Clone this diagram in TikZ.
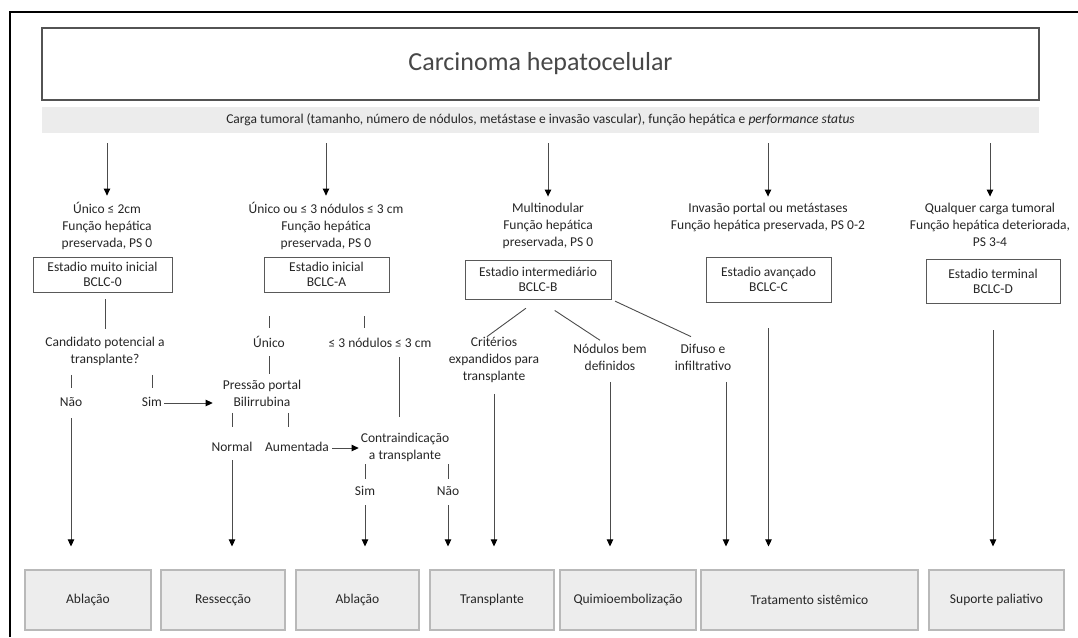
\documentclass[tikz,border=0pt]{standalone}
\usepackage{fontspec}
\setmainfont{Carlito}
\usetikzlibrary{arrows.meta}

\tikzset{
  every node/.style={text=black!85},
  txt/.style={align=center, inner sep=0pt, font=\fontsize{13.5}{17}\selectfont,
    execute at begin node=\strut, execute at end node=\strut},
  stagebox/.style={draw=gray!70!black, line width=0.9pt, align=center, inner sep=0pt,
    font=\fontsize{13.5}{15}\selectfont},
  treatbox/.style={draw=gray!55, fill=gray!14, line width=1.2pt, inner sep=0pt,
    minimum height=60pt, font=\fontsize{13.5}{17}\selectfont},
  ln/.style={draw=gray!60!black, line width=0.9pt},
  arr/.style={ln, -{Triangle[width=6.5pt,length=7pt,color=black]}},
}

\begin{document}
\begin{tikzpicture}[x=1pt, y=-1pt]
\useasboundingbox (0,0) rectangle (1078,637);
\draw[line width=2.5pt] (10,637) -- (10,12) -- (1078,12);

\node[draw=gray!65!black, line width=1.4pt, minimum width=997pt, minimum height=72pt, inner sep=0pt,
  font=\fontsize{26}{30}\selectfont, text=black!72] (title) at (540.5,64) {Carcinoma hepatocelular};
\node[fill=gray!15, minimum width=997pt, minimum height=26pt, inner sep=0pt,
  font=\fontsize{13.5}{15}\selectfont] (bar) at (540.5,120)
  {Carga tumoral (tamanho, número de nódulos, metástase e invasão vascular), função hepática e \textit{performance status}};

\node[txt] (c0) at (107,227) {Único ≤ 2cm\\Função hepática\\preservada, PS 0};
\node[txt] (c1) at (326,227) {Único ou ≤ 3 nódulos ≤ 3 cm\\Função hepática\\preservada, PS 0};
\node[txt] (c2) at (548,227) {Multinodular\\Função hepática\\preservada, PS 0};
\node[txt] (c3) at (768,218.5) {Invasão portal ou metástases\\Função hepática preservada, PS 0-2};
\node[txt] (c4) at (990,227) {Qualquer carga tumoral\\Função hepática deteriorada,\\PS 3-4};

\node[stagebox, minimum width=139pt, minimum height=35pt] (bclc0) at (102.5,274.5) {Estadio muito inicial\\BCLC-0};
\node[stagebox, minimum width=125pt, minimum height=35pt] (bclcA) at (326.5,274.5) {Estadio inicial\\BCLC-A};
\node[stagebox, minimum width=146pt, minimum height=39pt] (bclcB) at (538,279.5) {Estadio intermediário\\BCLC-B};
\node[stagebox, minimum width=125pt, minimum height=45pt] (bclcC) at (768.5,279.5) {Estadio avançado\\BCLC-C};
\node[stagebox, minimum width=134pt, minimum height=44pt] (bclcD) at (993,281) {Estadio terminal\\BCLC-D};

\node[txt] (cand) at (105,352.5) {Candidato potencial a\\transplante?};
\node[txt] (unico) at (269,344) {Único};
\node[txt] (nod3) at (380,344) {≤ 3 nódulos ≤ 3 cm};
\node[txt] (crit) at (494,361) {Critérios\\expandidos para\\transplante};
\node[txt] (nodb) at (610,359.5) {Nódulos bem\\definidos};
\node[txt] (dif) at (703,359.5) {Difuso e\\infiltrativo};
\node[txt] (nao1) at (71,403) {Não};
\node[txt] (sim1) at (152,403) {Sim};
\node[txt] (pres) at (262,396) {Pressão portal\\Bilirrubina};
\node[txt] (norm) at (232,448) {Normal};
\node[txt] (aum) at (297,448) {Aumentada};
\node[txt] (contra) at (405,448.5) {Contraindicação\\a transplante};
\node[txt] (sim2) at (365,492) {Sim};
\node[txt] (nao2) at (448,492) {Não};

\node[treatbox, minimum width=126pt] (abl1) at (88,600) {Ablação};
\node[treatbox, minimum width=124pt] (ress) at (223,600) {Ressecção};
\node[treatbox, minimum width=123pt] (abl2) at (357.5,600) {Ablação};
\node[treatbox, minimum width=124pt] (transp) at (492,600) {Transplante};
\node[treatbox, minimum width=136pt] (quimio) at (628,600) {Quimioembolização};
\node[treatbox, minimum width=217pt] (trat) at (809.5,600) {Tratamento sistêmico};
\node[treatbox, minimum width=135pt] (sup) at (996.5,600) {Suporte paliativo};

\draw[arr, shorten <=10pt, shorten >=6pt] (bar.south -| c0.north) -- (c0.north);
\draw[arr, shorten <=10pt, shorten >=6pt] (bar.south -| c1.north) -- (c1.north);
\draw[arr, shorten <=10pt, shorten >=6pt] (bar.south -| c2.north) -- (c2.north);
\draw[arr, shorten <=10pt, shorten >=6pt] (bar.south -| c3.north) -- (c3.north);
\draw[arr, shorten <=10pt, shorten >=6pt] (bar.south -| c4.north) -- (c4.north);

\draw[ln, shorten <=7pt, shorten >=8pt] (cand.north |- bclc0.south) -- (cand.north);
\draw[ln, shorten <=24pt, shorten >=7.5pt] (unico.north |- bclcA.south) -- (unico.north);
\draw[ln, shorten <=24pt, shorten >=7.5pt] ([xshift=-16pt]nod3.north |- bclcA.south) -- ([xshift=-16pt]nod3.north);
\draw[ln, shorten <=15pt] (bclcB.south) -- ([xshift=-7pt]crit.north);
\draw[ln, shorten <=20pt, shorten >=6pt] (bclcB.south) -- ([xshift=-5pt]nodb.north);
\draw[ln, shorten <=4pt] (bclcB.south east) -- ([xshift=-12pt,yshift=7pt]dif.north);

\draw[ln, shorten <=6.5pt, shorten >=6.5pt] (cand.south -| nao1.north) -- (nao1.north);
\draw[ln, shorten <=6.5pt, shorten >=6.5pt] (cand.south -| sim1.north) -- (sim1.north);
\draw[arr, shorten <=2pt, shorten >=10pt] (sim1.east) -- (sim1.east -| pres.west);
\draw[ln, shorten <=3.5pt, shorten >=6pt] (unico.south) -- (unico.south |- pres.north);
\draw[ln, shorten <=1pt, shorten >=12.5pt] (pres.south -| norm.north) -- (norm.north);
\draw[ln, shorten <=1pt, shorten >=12.5pt] ([xshift=-9pt]aum.north |- pres.south) -- ([xshift=-9pt]aum.north);
\draw[arr, shorten <=3pt, shorten >=2pt] (aum.east) -- (aum.east -| contra.west);
\draw[ln, shorten <=4.5pt, shorten >=16pt] ([xshift=19pt]nod3.south) -- ([xshift=19pt]nod3.south |- contra.north);
\draw[ln, shorten >=4.5pt] (contra.south -| sim2.north) -- (sim2.north);
\draw[ln, shorten >=4.5pt] (contra.south -| nao2.north) -- (nao2.north);

\draw[arr, shorten <=6.5pt, shorten >=23pt] (nao1.south) -- (nao1.south |- abl1.north);
\draw[arr, shorten <=3.5pt, shorten >=23pt] (norm.south) -- (norm.south |- ress.north);
\draw[arr, shorten <=4.5pt, shorten >=23pt] (sim2.south) -- (sim2.south |- abl2.north);
\draw[arr, shorten <=4.5pt, shorten >=23pt] (nao2.south) -- (nao2.south |- transp.north);
\draw[arr, shorten <=8.5pt, shorten >=23pt] (crit.south) -- (crit.south |- transp.north);
\draw[arr, shorten <=6.5pt, shorten >=23pt] (nodb.south) -- (nodb.south |- quimio.north);
\draw[arr, shorten <=6.5pt, shorten >=23pt] ([xshift=23pt]dif.south) -- ([xshift=23pt]dif.south |- trat.north);
\draw[arr, shorten <=26pt, shorten >=23pt] (bclcC.south) -- (bclcC.south |- trat.north);
\draw[arr, shorten <=27pt, shorten >=23pt] (bclcD.south) -- (bclcD.south |- sup.north);
\end{tikzpicture}
\end{document}
